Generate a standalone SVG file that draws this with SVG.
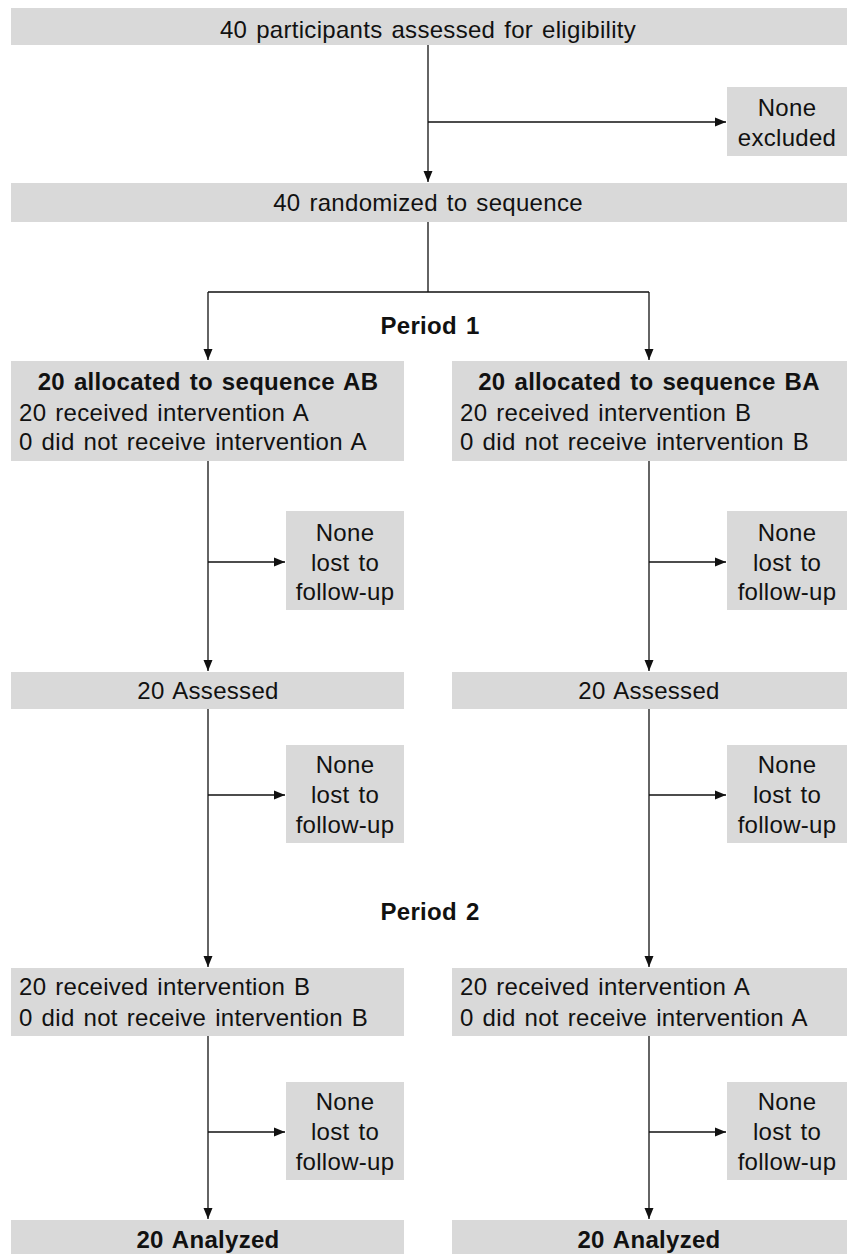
<svg xmlns="http://www.w3.org/2000/svg" width="847" height="1254" viewBox="0 0 847 1254">
<style>
.box{fill:#d9d9d9}
text{font-family:"Liberation Sans",Arial,sans-serif;font-size:24px;fill:#111;letter-spacing:0.3px;word-spacing:2px}
.c{text-anchor:middle}
.b{font-weight:bold}
.ln{stroke:#111;stroke-width:1.3;fill:none}
</style>
<defs>
<marker id="ah" markerUnits="userSpaceOnUse" markerWidth="12" markerHeight="10" refX="11" refY="5" orient="auto">
<path d="M0,0.5 L11,5 L0,9.5 Z" fill="#111"/>
</marker>
</defs>
<rect width="847" height="1254" fill="#fff"/>
<g id="connectors">
<path class="ln" d="M428,45 V182" marker-end="url(#ah)"/>
<path class="ln" d="M428,122 H726" marker-end="url(#ah)"/>
<path class="ln" d="M428,222 V292 M208,292 H649"/>
<path class="ln" d="M208,292 V360" marker-end="url(#ah)"/>
<path class="ln" d="M649,292 V360" marker-end="url(#ah)"/>
<path class="ln" d="M208,461 V671" marker-end="url(#ah)"/>
<path class="ln" d="M208,562 H285" marker-end="url(#ah)"/>
<path class="ln" d="M649,461 V671" marker-end="url(#ah)"/>
<path class="ln" d="M649,562 H726" marker-end="url(#ah)"/>
<path class="ln" d="M208,709 V967" marker-end="url(#ah)"/>
<path class="ln" d="M208,795 H285" marker-end="url(#ah)"/>
<path class="ln" d="M649,709 V967" marker-end="url(#ah)"/>
<path class="ln" d="M649,795 H726" marker-end="url(#ah)"/>
<path class="ln" d="M208,1036 V1219" marker-end="url(#ah)"/>
<path class="ln" d="M208,1132 H285" marker-end="url(#ah)"/>
<path class="ln" d="M649,1036 V1219" marker-end="url(#ah)"/>
<path class="ln" d="M649,1132 H726" marker-end="url(#ah)"/>
</g>
<g id="assessed-eligibility"><rect class="box" x="11" y="8" width="836" height="37"/><text class="c" x="428" y="38">40 participants assessed for eligibility</text></g>
<g id="excluded"><rect class="box" x="727" y="87" width="120" height="69"/><text class="c" x="787" y="116">None</text><text class="c" x="787" y="146">excluded</text></g>
<g id="randomized"><rect class="box" x="11" y="183" width="836" height="39"/><text class="c" x="428" y="211">40 randomized to sequence</text></g>
<g id="period1"><text class="c b" x="430" y="334">Period 1</text></g>
<g id="alloc-ab"><rect class="box" x="11" y="361" width="393" height="100"/><text class="c b" x="208" y="390">20 allocated to sequence AB</text><text x="19" y="421">20 received intervention A</text><text x="19" y="450">0 did not receive intervention A</text></g>
<g id="alloc-ba"><rect class="box" x="452" y="361" width="395" height="100"/><text class="c b" x="649" y="390">20 allocated to sequence BA</text><text x="460" y="421">20 received intervention B</text><text x="460" y="450">0 did not receive intervention B</text></g>
<g id="lost-ab-1"><rect class="box" x="286" y="511" width="118" height="99"/><text class="c" x="345" y="541">None</text><text class="c" x="345" y="571">lost to</text><text class="c" x="345" y="600">follow-up</text></g>
<g id="lost-ba-1"><rect class="box" x="727" y="511" width="120" height="99"/><text class="c" x="787" y="541">None</text><text class="c" x="787" y="571">lost to</text><text class="c" x="787" y="600">follow-up</text></g>
<g id="assessed-ab"><rect class="box" x="11" y="672" width="393" height="37"/><text class="c" x="208" y="699">20 Assessed</text></g>
<g id="assessed-ba"><rect class="box" x="452" y="672" width="395" height="37"/><text class="c" x="649" y="699">20 Assessed</text></g>
<g id="lost-ab-2"><rect class="box" x="286" y="745" width="118" height="98"/><text class="c" x="345" y="773">None</text><text class="c" x="345" y="803">lost to</text><text class="c" x="345" y="833">follow-up</text></g>
<g id="lost-ba-2"><rect class="box" x="727" y="745" width="120" height="98"/><text class="c" x="787" y="773">None</text><text class="c" x="787" y="803">lost to</text><text class="c" x="787" y="833">follow-up</text></g>
<g id="period2"><text class="c b" x="430" y="920">Period 2</text></g>
<g id="p2-ab"><rect class="box" x="11" y="968" width="393" height="68"/><text x="19" y="995">20 received intervention B</text><text x="19" y="1026">0 did not receive intervention B</text></g>
<g id="p2-ba"><rect class="box" x="452" y="968" width="395" height="68"/><text x="460" y="995">20 received intervention A</text><text x="460" y="1026">0 did not receive intervention A</text></g>
<g id="lost-ab-3"><rect class="box" x="286" y="1082" width="118" height="98"/><text class="c" x="345" y="1110">None</text><text class="c" x="345" y="1140">lost to</text><text class="c" x="345" y="1170">follow-up</text></g>
<g id="lost-ba-3"><rect class="box" x="727" y="1082" width="120" height="98"/><text class="c" x="787" y="1110">None</text><text class="c" x="787" y="1140">lost to</text><text class="c" x="787" y="1170">follow-up</text></g>
<g id="analyzed-ab"><rect class="box" x="11" y="1220" width="393" height="34"/><text class="c b" x="208" y="1248">20 Analyzed</text></g>
<g id="analyzed-ba"><rect class="box" x="452" y="1220" width="395" height="34"/><text class="c b" x="649" y="1248">20 Analyzed</text></g>
</svg>
